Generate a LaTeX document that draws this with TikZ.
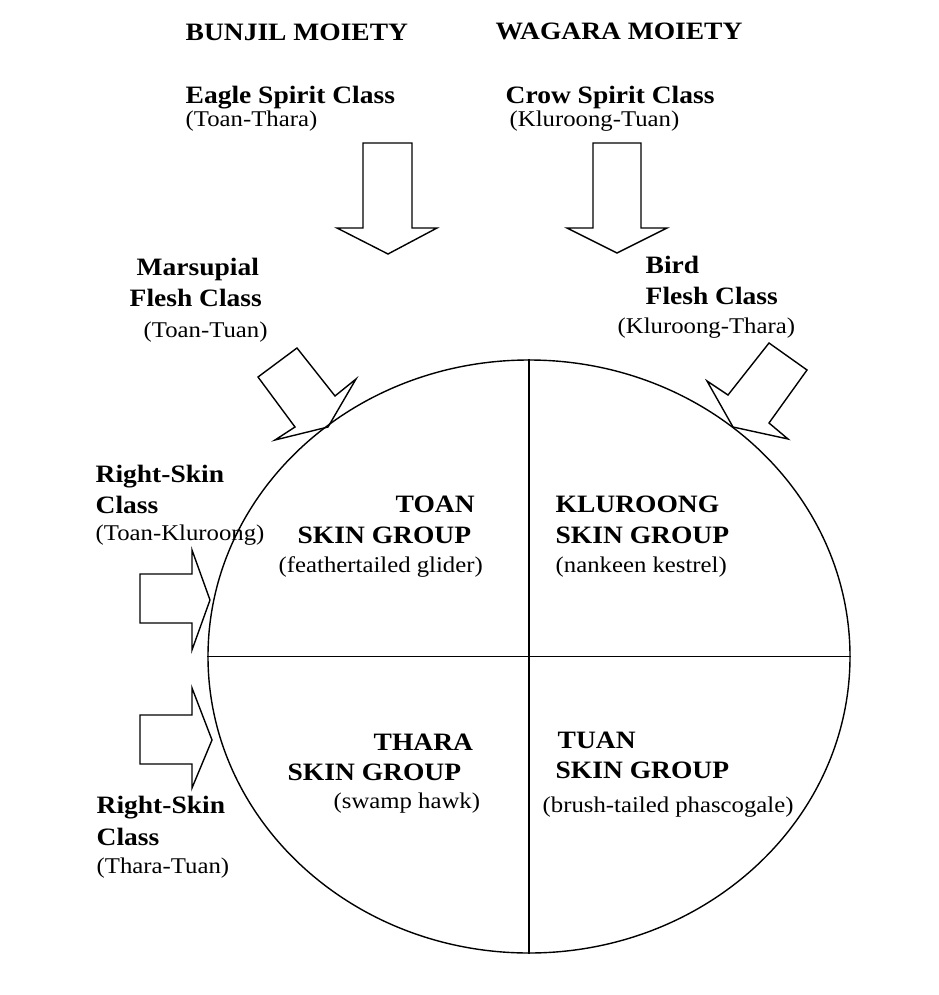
\documentclass[tikz,border=0pt]{standalone}
\usepackage{fontspec}
\setmainfont{Liberation Serif}[FakeStretch=1.1]
\usetikzlibrary{shapes.geometric}
\begin{document}
\begin{tikzpicture}[x=1pt,y=-1pt,line width=1.4pt,line join=miter,
  bt/.style={font=\fontsize{25}{30}\selectfont\bfseries,anchor=base west,inner sep=0pt},
  rt/.style={font=\fontsize{22.5}{27}\selectfont,anchor=base west,inner sep=0pt},
  blockarrow/.style={draw,line width=1.4pt,line join=miter}]
\useasboundingbox[fill=white] (0,0) rectangle (938,995);

% headings
\node[bt] (bunjil) at (185,41) {BUNJIL MOIETY};
\node[bt] (wagara) at (495,40) {WAGARA MOIETY};
\node[bt] (eagle) at (185,104) {Eagle Spirit Class};
\node[rt] (eaglesub) at (185,127) {(Toan-Thara)};
\node[bt] (crow) at (505,104) {Crow Spirit Class};
\node[rt] (crowsub) at (509,127) {(Kluroong-Tuan)};

% flesh classes
\node[bt] (mars1) at (136,275) {Marsupial};
\node[bt] (mars2) at (129,306) {Flesh Class};
\node[rt] (marssub) at (143,337) {(Toan-Tuan)};
\node[bt] (bird1) at (645,273) {Bird};
\node[bt] (bird2) at (645,304) {Flesh Class};
\node[rt] (birdsub) at (617,333) {(Kluroong-Thara)};

% right-skin classes
\node[bt] (rsa1) at (95,482) {Right-Skin};
\node[bt] (rsa2) at (95,513) {Class};
\node[rt] (rsasub) at (95,540) {(Toan-Kluroong)};
\node[bt] (rsb1) at (96,813) {Right-Skin};
\node[bt] (rsb2) at (96,845) {Class};
\node[rt] (rsbsub) at (96,873) {(Thara-Tuan)};

% circle
\node[draw,ellipse,minimum width=642pt,minimum height=593pt,inner sep=0pt,line width=1.4pt] (circ) at (529,656.5) {};
\draw (circ.north) -- (circ.south);
\draw (circ.west) -- (circ.east);

% skin groups
\node[bt] (toan1) at (395,512) {TOAN};
\node[bt] (toan2) at (297,543) {SKIN GROUP};
\node[rt] (toan3) at (278,572) {(feathertailed glider)};
\node[bt] (kl1) at (555,512) {KLUROONG};
\node[bt] (kl2) at (555,543) {SKIN GROUP};
\node[rt] (kl3) at (555,572) {(nankeen kestrel)};
\node[bt] (th1) at (373,750) {THARA};
\node[bt] (th2) at (287,780) {SKIN GROUP};
\node[rt] (th3) at (333,808) {(swamp hawk)};
\node[bt] (tu1) at (557,748) {TUAN};
\node[bt] (tu2) at (555,778) {SKIN GROUP};
\node[rt] (tu3) at (542,812) {(brush-tailed phascogale)};

% block arrows
\draw[blockarrow] (363,143) -- (363,228) -- (337,228) -- (388,254) -- (437,228) -- (412,228) -- (412,143) -- cycle;
\draw[blockarrow] (593,143) -- (593,228) -- (567,228) -- (617,253) -- (667,228) -- (641,228) -- (641,143) -- cycle;
\draw[blockarrow] (297,348) -- (335,396) -- (356,379) -- (328,427) -- (275,440) -- (295,427) -- (258,377) -- cycle;
\draw[blockarrow] (769,343) -- (807,370) -- (769,423) -- (788,439) -- (733,427) -- (707,381) -- (728,395) -- cycle;
\draw[blockarrow] (140,574) -- (192,574) -- (192,550) -- (210,600) -- (192,650) -- (192,623) -- (140,623) -- cycle;
\draw[blockarrow] (140,715) -- (192,715) -- (192,688) -- (212,740) -- (192,788) -- (192,764) -- (140,764) -- cycle;
\end{tikzpicture}
\end{document}
